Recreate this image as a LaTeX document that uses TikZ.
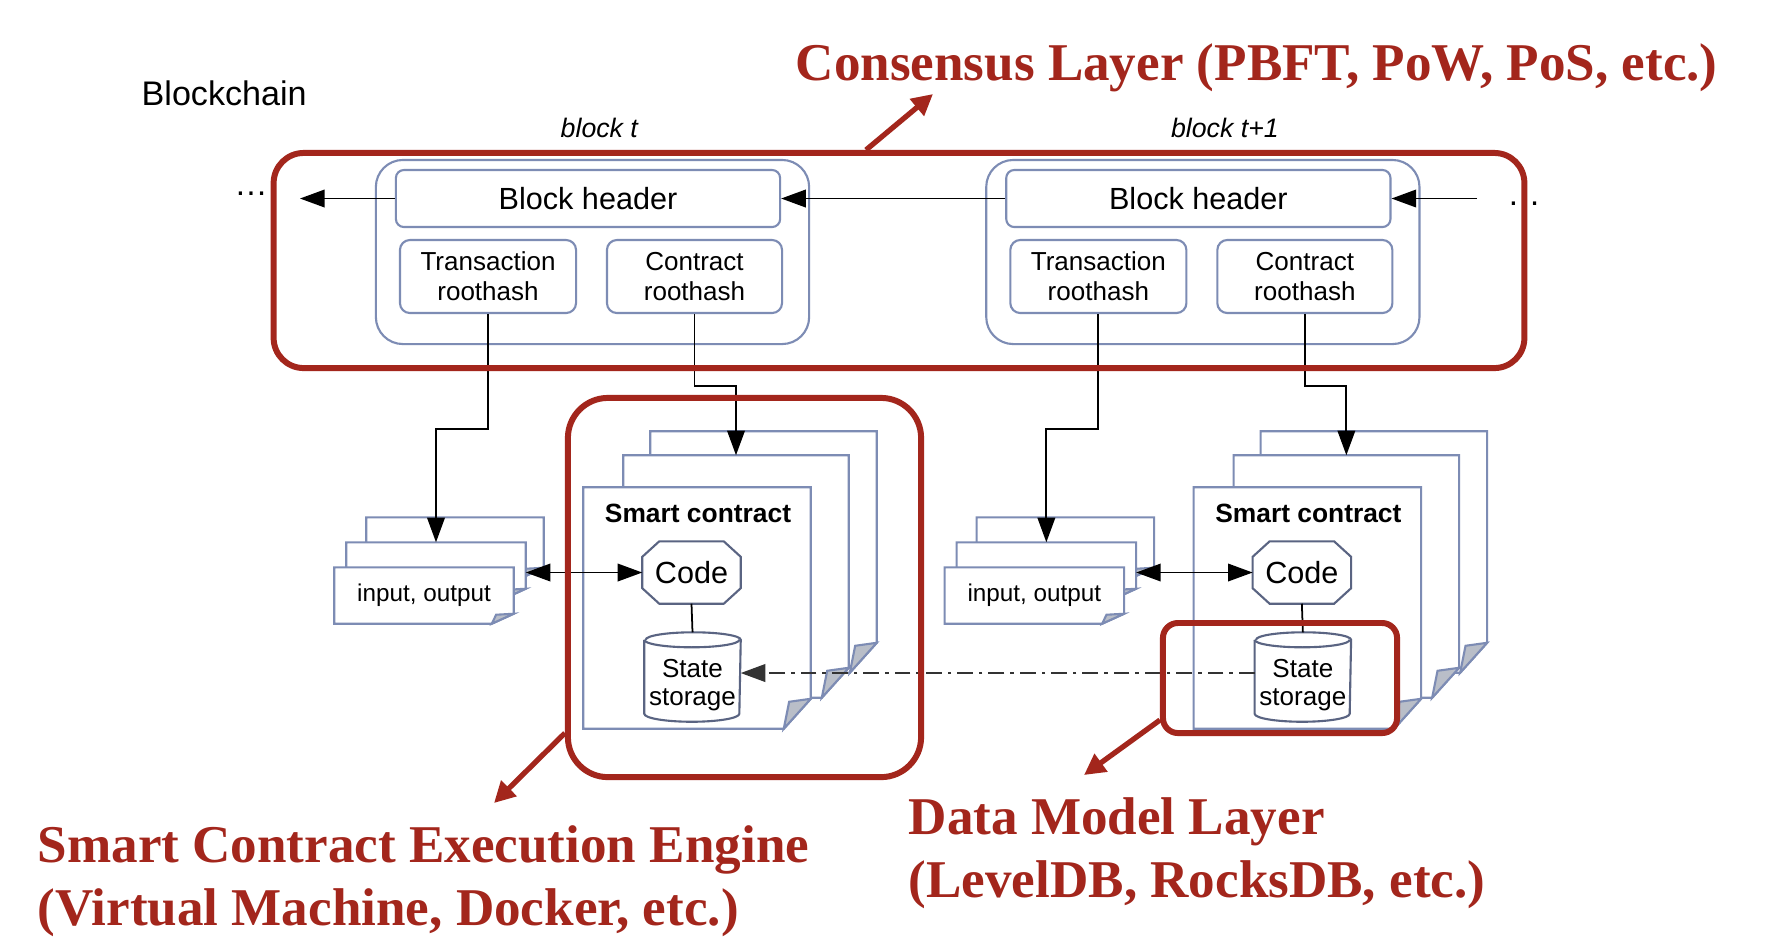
\documentclass[tikz,border=0pt]{standalone}
\usepackage{fontspec}
\setmainfont{Liberation Serif}
\setsansfont{Liberation Sans}
\usetikzlibrary{arrows.meta, positioning}
\definecolor{darkred}{RGB}{163,38,28}
\definecolor{boxline}{RGB}{125,140,180}
\definecolor{shapeline}{RGB}{90,100,130}
\definecolor{foldgrey}{RGB}{185,190,200}
\tikzstyle{blockbox} = [draw=boxline, fill=white, line width=0.6pt, rounded corners=0.27cm, inner sep=0pt]
\tikzstyle{hdrbox} = [draw=boxline, fill=white, line width=0.6pt, rounded corners=0.08cm, inner sep=0pt, font=\sffamily\fontsize{8.7}{10}\selectfont]
\tikzstyle{hashbox} = [draw=boxline, fill=white, line width=0.6pt, rounded corners=0.1cm, inner sep=0pt, align=center, font=\sffamily\fontsize{7.4}{8.5}\selectfont]
\tikzstyle{pagebox} = [inner sep=0pt]
\tikzstyle{pageline} = [draw=boxline, line width=0.6pt]
\tikzstyle{codebox} = [inner sep=0pt, minimum width=0.97cm, minimum height=0.61cm, font=\sffamily\fontsize{8.7}{10}\selectfont]
\tikzstyle{stobox} = [inner sep=0pt, minimum width=0.95cm, minimum height=0.88cm]
\tikzstyle{stotext} = [inner sep=0pt, align=center, font=\sffamily\fontsize{7.4}{8}\selectfont]
\tikzstyle{conn} = [draw=black, line width=0.5pt, -{Triangle[length=7pt,width=5pt]}]
\tikzstyle{twoway} = [draw=black, line width=0.5pt, {Triangle[length=7pt,width=5pt]}-{Triangle[length=7pt,width=5pt]}]
\tikzstyle{statelink} = [draw=black!80, line width=0.6pt, dash pattern=on 4.5pt off 1.7pt on 1pt off 1.7pt, -{Triangle[length=7pt,width=5pt]}]
\tikzstyle{layerbox} = [draw=darkred, line width=1.7pt, inner sep=0pt]
\tikzstyle{layerarrow} = [draw=darkred, line width=1.5pt, -{Triangle[length=6pt,width=6pt]}]
\tikzstyle{layertitle} = [text=darkred, font=\bfseries\fontsize{15.1}{17.9}\selectfont, align=left, inner sep=0pt]

% page with a folded corner, drawn round an empty node
\newcommand{\dogear}[3]{%
  \draw[pageline, fill=white] (#1.north west) -- (#1.north east) -- ([yshift=#3]#1.south east) -- ([xshift=-#2]#1.south east) -- (#1.south west) -- cycle;
  \draw[pageline, fill=foldgrey] ([yshift=#3]#1.south east) -- ([xshift=-0.8*#2, yshift=0.9*#3]#1.south east) -- ([xshift=-#2]#1.south east) -- cycle;}

% one block of the chain with its contract and data
\newcommand{\chainblock}[3]{%
\begin{scope}[xshift=#2]
  \node[anchor=base west, inner sep=0pt, font=\sffamily\itshape\fontsize{7.6}{9}\selectfont] (lbl#1) at (560,137) {#3};
  \node[blockbox, minimum width=4.33cm, minimum height=1.84cm] (blk#1) at (592.5,252) {};
  \node[hdrbox, minimum width=3.84cm, minimum height=0.57cm] (hdr#1) at (588,198.5) {Block header};
  \node[hashbox, minimum width=1.76cm, minimum height=0.73cm] (trx#1) at (488,276.5) {Transaction\\roothash};
  \node[hashbox, minimum width=1.75cm, minimum height=0.73cm] (crh#1) at (694.5,276.5) {Contract\\roothash};
  % input, output pages
  \node[pagebox, minimum width=1.76cm, minimum height=0.59cm] (iob#1) at (455,547.5) {};
  \dogear{iob#1}{0.22cm}{0.10cm}
  \node[pagebox, minimum width=1.78cm, minimum height=0.55cm] (iom#1) at (436,570.5) {};
  \dogear{iom#1}{0.22cm}{0.10cm}
  \node[pagebox, minimum width=1.78cm, minimum height=0.55cm] (iof#1) at (424,595.5) {};
  \dogear{iof#1}{0.22cm}{0.10cm}
  \node[font=\sffamily\fontsize{6.9}{8}\selectfont, inner sep=0pt] (iotxt#1) at (iof#1) {input, output};
  % smart contract pages
  \node[pagebox, minimum width=2.25cm, minimum height=2.40cm] (scb#1) at (763.5,552) {};
  \dogear{scb#1}{0.27cm}{0.30cm}
  \node[pagebox, minimum width=2.24cm, minimum height=2.41cm] (scm#1) at (736,576.5) {};
  \dogear{scm#1}{0.27cm}{0.30cm}
  \node[pagebox, minimum width=2.26cm, minimum height=2.40cm] (scf#1) at (697,608) {};
  \dogear{scf#1}{0.27cm}{0.30cm}
  \node[font=\sffamily\bfseries\fontsize{7.5}{9}\selectfont, inner sep=0pt] (sct#1) at (698,513) {Smart contract};
  \node[codebox] (code#1) at (691.5,572.5) {Code};
  \draw[draw=shapeline, line width=0.6pt] ([xshift=0.17cm]code#1.north west) -- ([xshift=-0.17cm]code#1.north east) -- ([yshift=-0.155cm]code#1.north east) -- ([yshift=0.155cm]code#1.south east) -- ([xshift=-0.17cm]code#1.south east) -- ([xshift=0.17cm]code#1.south west) -- ([yshift=0.155cm]code#1.south west) -- ([yshift=-0.155cm]code#1.north west) -- cycle;
  \node[stobox] (sto#1) at (692.5,677) {};
  \draw[draw=shapeline, line width=0.6pt] ([yshift=-0.075cm]sto#1.north west) -- ([yshift=0.08cm]sto#1.south west) arc[start angle=180, end angle=360, x radius=0.475cm, y radius=0.08cm] -- ([yshift=-0.075cm]sto#1.north east) arc[start angle=0, end angle=180, x radius=0.475cm, y radius=0.075cm];
  \draw[draw=shapeline, line width=0.6pt] ([yshift=-0.075cm]sto#1.north west) arc[start angle=180, end angle=360, x radius=0.475cm, y radius=0.075cm];
  \node[stotext] (stotxt#1) at ([yshift=-0.08cm]sto#1.center) {State\\storage};
  \draw[black, line width=0.5pt] (code#1.south) -- (sto#1.north);
  % links from the roothashes
  \draw[conn] (trx#1.south) -- ++(0,115) -| (iom#1.north);
  \draw[conn] (crh#1.south) -- ++(0,72) -| (scm#1.north);
  \draw[twoway] (iom#1.east |- code#1.west) -- (code#1.west);
\end{scope}}

\begin{document}
\begin{tikzpicture}[x=0.01cm, y=-0.01cm]
  \useasboundingbox (0,0) rectangle (1770,950);
  \fill[white] (0,0) rectangle (1770,950);

  \node[anchor=base west, inner sep=0pt, font=\sffamily\fontsize{9.7}{11}\selectfont] (chain) at (141,105) {Blockchain};

  \chainblock{a}{0cm}{block t}
  \chainblock{b}{6.1cm}{block t+1}

  \coordinate (ltip) at (300,198.5);
  \coordinate (rtail) at (1477,198.5);
  \node[anchor=base, inner sep=0pt, font=\sffamily\fontsize{9.5}{10}\selectfont] (dotsl) at (251,195.5) {\dots};
  \node[anchor=base, inner sep=0pt, font=\sffamily\fontsize{9.5}{10}\selectfont] (dotsr) at (1524,205) {\dots};
  \draw[conn] (hdra.west) -- (ltip);
  \draw[conn] (hdrb.west) -- (hdra.east);
  \draw[conn] (rtail) -- (hdrb.east);
  \draw[statelink] ([yshift=0.04cm]stob.west) -- ([yshift=0.04cm]stoa.east);

  % layers
  \node[layerbox, rounded corners=0.3cm, minimum width=12.5cm, minimum height=2.15cm] (cons) at (899,260.5) {};
  \node[layertitle, anchor=base west] (constitle) at (795,80) {Consensus Layer (PBFT, PoW, PoS, etc.)};
  \coordinate (constip) at (933,94);
  \draw[layerarrow] ([xshift=-0.33cm]cons.north) -- (constip);

  \node[layerbox, rounded corners=0.4cm, minimum width=3.53cm, minimum height=3.79cm] (exe) at (744.5,587.5) {};
  \node[layertitle, anchor=base west] (exetitle) at (37,925) {Smart Contract Execution Engine\\(Virtual Machine, Docker, etc.)};
  \coordinate (exetip) at (494,803);
  \draw[layerarrow] ([yshift=0.47cm]exe.south west) -- (exetip);

  \node[layerbox, rounded corners=0.15cm, minimum width=2.34cm, minimum height=1.10cm] (dat) at (1280,678) {};
  \node[layertitle, anchor=base west] (dattitle) at (908,897) {Data Model Layer\\(LevelDB, RocksDB, etc.)};
  \coordinate (dattip) at (1084,775);
  \draw[layerarrow] ([yshift=0.16cm]dat.south west) -- (dattip);
\end{tikzpicture}
\end{document}
